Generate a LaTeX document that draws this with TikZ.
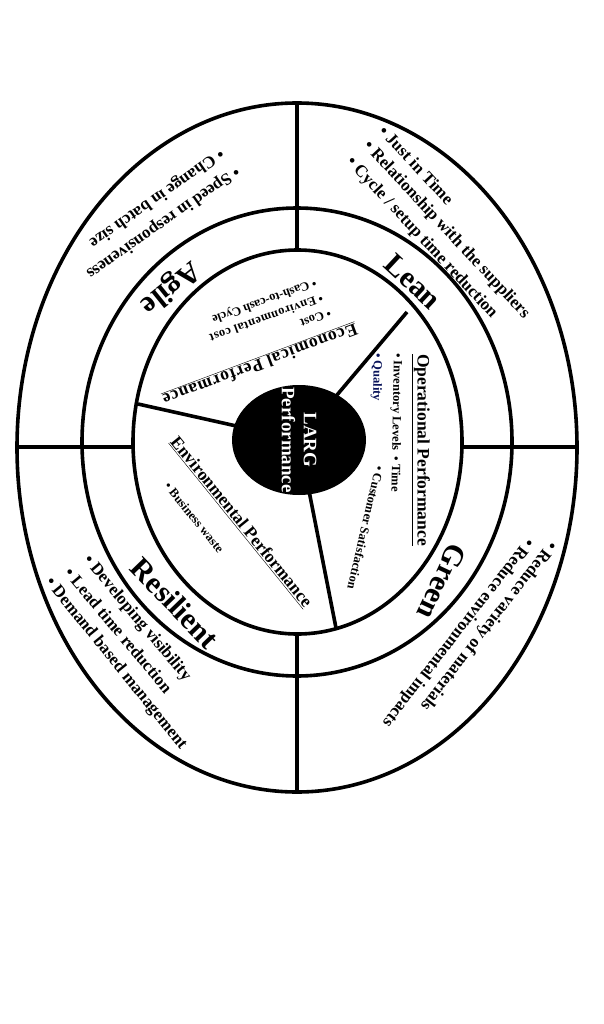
\documentclass[tikz,border=0pt]{standalone}
\usepackage{fontspec}
\setmainfont{Liberation Serif}
\usetikzlibrary{shapes.geometric}
\begin{document}
\begin{tikzpicture}[x=1pt,y=-1pt,
  ring/.style={draw=black,line width=3.6pt},
  big/.style={font=\fontsize{30}{30}\selectfont\bfseries,inner sep=0pt},
  outer/.style={font=\fontsize{17}{17}\selectfont\bfseries,anchor=west,inner sep=0pt},
  head/.style={font=\fontsize{17.5}{17.5}\selectfont\bfseries,inner sep=0pt},
  small/.style={font=\fontsize{12.5}{12.5}\selectfont\bfseries,anchor=west,inner sep=0pt}]
\useasboundingbox[fill=white] (0,0) rectangle (604,1024);
\draw[ring] (297,447.5) ellipse [x radius=280, y radius=344.5];
\draw[ring] (297,442) ellipse [x radius=215, y radius=234];
\draw[ring] (297.5,442) ellipse [x radius=164.5, y radius=192];
\draw[ring] (297,103) -- (297,251);
\draw[ring] (297,634) -- (297,792);
\draw[ring] (17,447) -- (134,447);
\draw[ring] (461,447) -- (577,447);
\coordinate (d1) at (407,312);
\coordinate (d2) at (138,404);
\coordinate (d3) at (336,628);
\node[ellipse,minimum width=134pt,minimum height=110pt,inner sep=0pt] (larg) at (299,440) {};
\draw[ring] (larg.center) -- (d1);
\draw[ring] (larg.center) -- (d2);
\draw[ring] (larg.center) -- (d3);
\fill[black] (299,440) ellipse [x radius=67, y radius=55];
\node[rotate=-90,align=center,text=white,font=\fontsize{19}{22}\selectfont\bfseries] (lt) at (larg.center) {LARG\\Performance};
% ring labels
\node[big,rotate=-43] (lean) at (413,282) {Lean};
\node[big,rotate=219] (agile) at (170,287) {Agile};
\node[big,rotate=-115] (green) at (442,582) {Green};
\node[big,rotate=-46] (res) at (175,603) {Resilient};
% outer texts
\node[outer,rotate=-47] (l1) at (382,128) {• Just in Time};
\node[outer,rotate=-47] (l2) at (366,144) {• Relationship with the suppliers};
\node[outer,rotate=-47] (l3) at (349,160) {• Cycle / setup time reduction};
\node[outer,rotate=215] (a1) at (222,152) {• Change in batch size};
\node[outer,rotate=215] (a2) at (238,170) {• Speed in responsiveness};
\node[outer,rotate=-128] (g1) at (553,543) {• Reduce variety of materials};
\node[outer,rotate=-128] (g2) at (530,540) {• Reduce environmental impacts};
\node[outer,rotate=-50] (r1) at (86,558) {• Developing visibility};
\node[outer,rotate=-50] (r2) at (68,570) {• Lead time reduction};
\node[outer,rotate=-51] (r3) at (48,580) {• Demand based management};
% inner texts
\node[head,rotate=200.5] (eco) at (260,364) {\addfontfeature{LetterSpace=5}\underline{Economical Performance}};
\node[small,rotate=200] (e1) at (331,313) {• Cost};
\node[small,rotate=200] (e2) at (323,298) {• \addfontfeature{LetterSpace=4}Environmental cost};
\node[small,rotate=200] (e3) at (316,282) {• Cash-to-cash Cycle};
\node[head,rotate=-90] (op) at (421,450) {\underline{Operational Performance}};
\node[small,rotate=-91] (o1) at (397,353) {• Inventory Levels \ • Time};
\node[small,rotate=-91,text={rgb,255:red,10;green,20;blue,90}] (o2) at (377,353) {• Quality};
\node[small,rotate=-103] (o3) at (380,466) {• Customer Satisfaction};
\node[head,rotate=-51] (env) at (241,522) {\underline{Environmental Performance}};
\node[small,rotate=-51] (b1) at (167,484) {• Business waste};
\end{tikzpicture}
\end{document}
